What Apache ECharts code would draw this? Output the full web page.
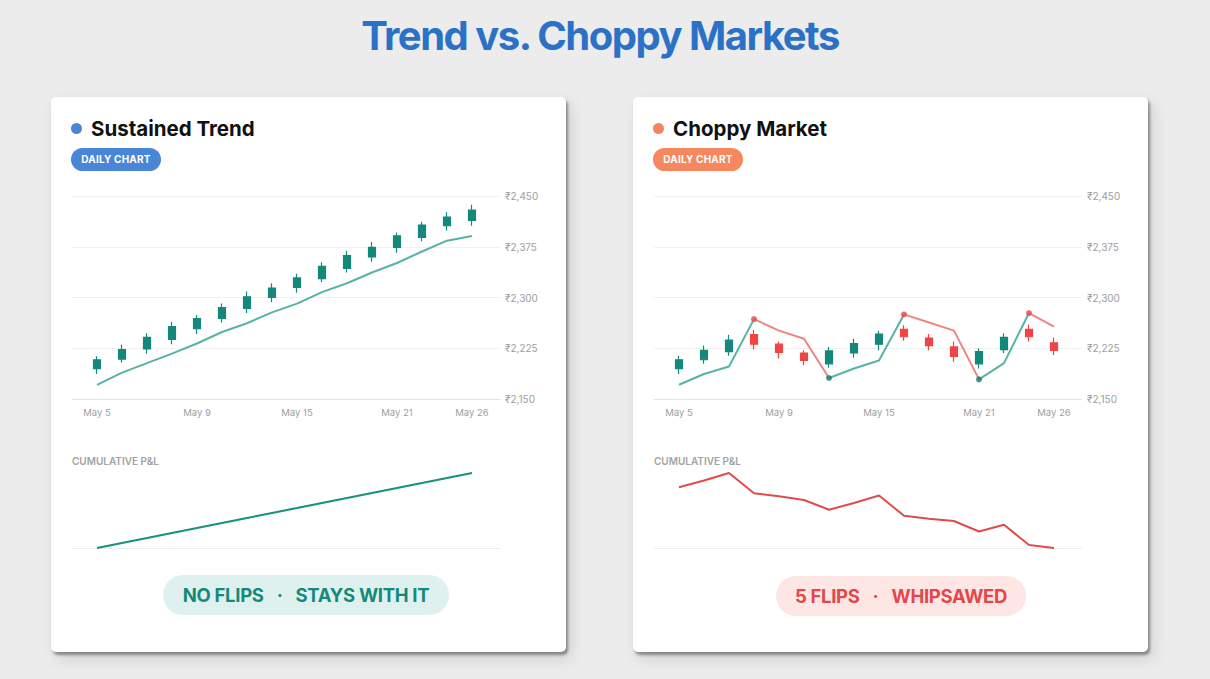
<!DOCTYPE html>
<html>
<head>
<meta charset="utf-8">
<script src="https://cdn.jsdelivr.net/npm/echarts@6/dist/echarts.min.js"></script>
<style>
  html, body { margin:0; padding:0; }
  body { width:1210px; height:679px; background:#ececec; position:relative; overflow:hidden; font-family: Inter, "Noto Sans", sans-serif; }
  .title { position:absolute; left:0; width:1200px; top:15px; line-height:41px; font-size:40px; font-weight:700; color:#2b72c6; text-align:center; letter-spacing:-1.5px; }
  .card { position:absolute; top:97px; width:515px; height:555px; background:#fff; border-radius:5px;
          box-shadow: 2px 3px 3px rgba(0,0,0,0.38), 5px 7px 16px rgba(0,0,0,0.12); }
  .dot { position:absolute; width:11px; height:11px; border-radius:50%; }
  .ctitle { position:absolute; font-size:20.5px; line-height:20px; font-weight:700; color:#111; letter-spacing:0px; }
  .badge { position:absolute; height:23px; line-height:23px; border-radius:12px; color:#fff; font-size:10px; font-weight:700; text-align:center; width:90px; letter-spacing:0.2px; }
  .pnl { position:absolute; font-size:10px; line-height:10px; font-weight:600; color:#a3a3a3; letter-spacing:0px; }
  .pill { position:absolute; height:40px; line-height:40px; border-radius:20px; font-size:18.5px; font-weight:700; text-align:center; letter-spacing:-0.3px; }
  .pill .sep { margin:0 13px; }
  #chart { position:absolute; left:0; top:0; width:1210px; height:679px; }
</style>
</head>
<body>
<div class="title">Trend vs. Choppy Markets</div>

<div class="card" style="left:51px;"></div>
<div class="card" style="left:633px;"></div>

<div class="dot" style="left:71px; top:123px; background:#4a86d8;"></div>
<div class="ctitle" style="left:91px; top:119px;">Sustained Trend</div>
<div class="badge" style="left:71px; top:148px; background:#4a86d8;">DAILY CHART</div>
<div class="pnl" style="left:72px; top:456px;">CUMULATIVE P&amp;L</div>
<div class="pill" style="left:163px; top:575px; width:286px; background:#dff1ee; color:#15897a;">NO FLIPS<span class="sep">·</span>STAYS WITH IT</div>

<div class="dot" style="left:653px; top:123px; background:#f4845f;"></div>
<div class="ctitle" style="left:673px; top:119px;">Choppy Market</div>
<div class="badge" style="left:653px; top:148px; background:#f7875e;">DAILY CHART</div>
<div class="pnl" style="left:654px; top:456px;">CUMULATIVE P&amp;L</div>
<div class="pill" style="left:776px; top:576px; width:250px; background:#fde6e4; color:#e3474b;">5 FLIPS<span class="sep">·</span>WHIPSAWED</div>

<div id="chart"></div>

<script>
// ---------------- data ----------------
const dates = ['May 5','May 6','May 7','May 8','May 9','May 12','May 13','May 14','May 15','May 16','May 19','May 20','May 21','May 22','May 23','May 26'];
const shownDates = ['May 5','May 9','May 15','May 21','May 26'];
const priceTicks = [2150, 2225, 2300, 2375, 2450];

// candles: [open, close, low, high]
const trendCandles = [
  [2195,2208,2187,2213],[2209,2223,2204,2230],[2224,2241,2217,2247],[2238,2257,2231,2264],
  [2254,2269,2246,2274],[2269,2285,2263,2291],[2284,2301,2277,2309],[2300,2314,2293,2321],
  [2315,2329,2307,2335],[2328,2346,2323,2352],[2343,2362,2337,2369],[2360,2374,2353,2382],
  [2374,2391,2366,2396],[2389,2407,2383,2412],[2406,2419,2399,2426],[2414,2429,2406,2437]
];
const trendLine = [2171,2189,2203,2217,2232,2249,2262,2278,2291,2308,2321,2337,2351,2368,2384,2391];
const trendPnl = [0,6.7,13.3,20,26.7,33.3,40,46.7,53.3,60,66.7,73.3,80,86.7,93.3,100];

const choppyCandles = [
  [2195,2208,2187,2214],[2208,2222,2202,2229],[2220,2237,2214,2245],[2245,2231,2223,2252],
  [2231,2219,2210,2235],[2218,2207,2200,2222],[2202,2221,2196,2227],[2218,2232,2211,2239],
  [2231,2246,2222,2251],[2253,2242,2236,2259],[2240,2229,2222,2246],[2227,2213,2205,2235],
  [2202,2220,2195,2225],[2223,2241,2218,2247],[2253,2242,2235,2260],[2233,2222,2215,2241]
];
const choppyLine = [2171,2187,2198,2268,2251,2239,2181,2195,2207,2275,2263,2251,2179,2203,2277,2257];
const choppyFlips = [3,6,9,12,14];   // indices where the indicator flips
const choppyPnl = [81,90,100,73,69,64,51,60,70,43,39,36,22,31,4,0];

// ---------------- colours ----------------
const UP = '#14887a', DOWN = '#ef4545';
const LINE_UP = '#57b3a6', LINE_DOWN = '#ee8584';

// build up/down segments of the indicator line from flip indices
function splitSegments(vals, flips) {
  const up = vals.map(() => null), down = vals.map(() => null);
  let bounds = [0].concat(flips).concat([vals.length - 1]);
  let isUp = true;
  for (let s = 0; s < bounds.length - 1; s++) {
    const a = bounds[s], b = bounds[s + 1];
    for (let i = a; i <= b; i++) (isUp ? up : down)[i] = vals[i];
    isUp = !isUp;
  }
  return { up, down };
}
const seg = splitSegments(choppyLine, choppyFlips);
const flipUpDots = [], flipDownDots = [];
choppyFlips.forEach((idx, k) => {
  // first flip turns bearish, then alternates
  if (k % 2 === 0) flipDownDots.push([idx, choppyLine[idx]]);
  else flipUpDots.push([idx, choppyLine[idx]]);
});

// ---------------- layout ----------------
const PANELS = [{ x: 72 }, { x: 654 }];
const PRICE_TOP = 196, PRICE_H = 203, PNL_TOP = 473, PNL_H = 75;
const BG_W = 428, INNER_OFF = 12.5, INNER_W = 400;

const grids = [], xAxes = [], yAxes = [], series = [];
const labelStyle = { color: '#9e9e9e', fontSize: 9.5, fontFamily: 'Inter' };

function addPanel(px, candles, lineSeries, pnl, pnlColor) {
  const g0 = grids.length;
  // price background grid (gridlines + axis line + y labels)
  grids.push({ left: px, top: PRICE_TOP, width: BG_W, height: PRICE_H });
  xAxes.push({ gridIndex: g0, type: 'value', min: 0, max: 1, axisLine: { show: true, lineStyle: { color: '#e3e3e3', width: 1 } },
    axisTick: { show: false }, axisLabel: { show: false }, splitLine: { show: false } });
  yAxes.push({ gridIndex: g0, type: 'value', position: 'right', min: priceTicks[0], max: priceTicks[priceTicks.length - 1],
    interval: priceTicks[1] - priceTicks[0],
    axisLine: { show: false }, axisTick: { show: false },
    axisLabel: { margin: 5, color: '#9e9e9e', fontSize: 10, fontFamily: 'Inter', formatter: v => '₹' + v.toLocaleString('en-US') },
    splitLine: { lineStyle: { color: '#f1f1f1', width: 1 } } });
  // price foreground grid (candles + indicator)
  const g1 = grids.length;
  grids.push({ left: px + INNER_OFF, top: PRICE_TOP, width: INNER_W, height: PRICE_H });
  xAxes.push({ gridIndex: g1, type: 'category', data: dates, boundaryGap: true,
    axisLine: { show: false }, axisTick: { show: false },
    axisLabel: { ...labelStyle, margin: 8, interval: 0, formatter: v => shownDates.includes(v) ? v : '' } });
  yAxes.push({ gridIndex: g1, type: 'value', min: priceTicks[0], max: priceTicks[priceTicks.length - 1], show: false });
  series.push({ type: 'candlestick', xAxisIndex: g1, yAxisIndex: g1, data: candles, barWidth: 7,
    itemStyle: { color: UP, color0: DOWN, borderColor: UP, borderColor0: DOWN, borderWidth: 1.2 }, silent: true });
  lineSeries.forEach(ls => series.push(Object.assign({ xAxisIndex: g1, yAxisIndex: g1, silent: true }, ls)));
  // pnl background
  const g2 = grids.length;
  grids.push({ left: px, top: PNL_TOP, width: BG_W, height: PNL_H });
  xAxes.push({ gridIndex: g2, type: 'value', min: 0, max: 1, axisLine: { show: true, lineStyle: { color: '#ededed' } },
    axisTick: { show: false }, axisLabel: { show: false }, splitLine: { show: false } });
  yAxes.push({ gridIndex: g2, type: 'value', min: 0, max: 100, show: false, splitLine: { show: false } });
  // pnl line
  const g3 = grids.length;
  grids.push({ left: px + INNER_OFF, top: PNL_TOP, width: INNER_W, height: PNL_H });
  xAxes.push({ gridIndex: g3, type: 'category', data: dates, boundaryGap: true, show: false });
  yAxes.push({ gridIndex: g3, type: 'value', min: 0, max: 100, show: false });
  series.push({ type: 'line', xAxisIndex: g3, yAxisIndex: g3, data: pnl, symbol: 'none', silent: true,
    lineStyle: { color: pnlColor, width: 2 } });
}

addPanel(PANELS[0].x, trendCandles, [
  { type: 'line', data: trendLine, symbol: 'none', lineStyle: { color: LINE_UP, width: 2 } }
], trendPnl, '#17907f');

addPanel(PANELS[1].x, choppyCandles, [
  { type: 'line', data: seg.up, symbol: 'none', connectNulls: false, lineStyle: { color: LINE_UP, width: 2 } },
  { type: 'line', data: seg.down, symbol: 'none', connectNulls: false, lineStyle: { color: LINE_DOWN, width: 2 } },
  { type: 'scatter', data: flipDownDots, symbolSize: 6, itemStyle: { color: '#e84848' }, z: 5 },
  { type: 'scatter', data: flipUpDots, symbolSize: 6, itemStyle: { color: '#0f8070' }, z: 5 }
], choppyPnl, '#e24b4b');

const chart = echarts.init(document.getElementById('chart'), null, { renderer: 'svg' });
chart.setOption({
  backgroundColor: 'transparent',
  animation: false,
  grid: grids,
  xAxis: xAxes,
  yAxis: yAxes,
  series: series
});
</script>
</body>
</html>
